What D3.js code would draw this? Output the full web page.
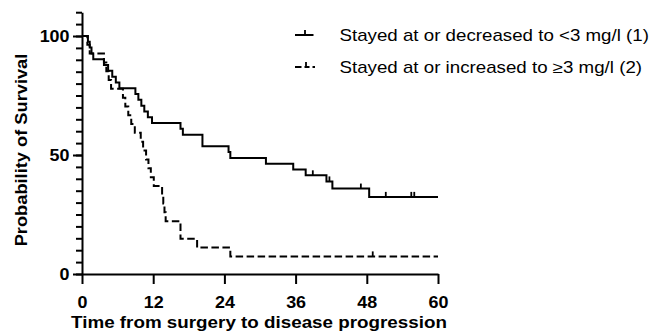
<!DOCTYPE html>
<html>
<head>
<meta charset="utf-8">
<script src="https://cdn.jsdelivr.net/npm/d3@7"></script>
<style>
  html, body { margin: 0; padding: 0; background: #fff; }
  svg { display: block; }
  text { font-family: "Liberation Sans", Arial, Helvetica, sans-serif; fill: #000; }
</style>
</head>
<body>
<svg id="chart" width="656" height="332"></svg>
<script>
// Kaplan–Meier steps: month of each drop and survival (%) right after it
const lowTimes    = [0, 1.0, 1.3, 1.6, 1.9, 3.7, 4.4, 5.1, 5.7, 6.3, 9.0, 9.5, 10.0, 10.5, 11.1, 11.8,
                     16.6, 17.0, 20.3, 24.7, 25.0, 31.0, 35.6, 37.7, 41.2, 42.2, 48.4];
const lowSurvival = [100, 97.56, 95.12, 92.68, 90.24, 87.80, 85.37, 82.93, 80.49, 78.05, 75.61, 73.17,
                     70.73, 68.29, 65.85, 63.41, 60.98, 58.54, 53.66, 51.22, 48.78, 46.34, 43.90,
                     41.46, 38.9, 35.9, 32.4];
const lowCensored = [38.9, 41.7, 47.0, 51.2, 55.5, 56.0];

const highTimes    = [0, 0.9, 1.3, 3.7, 4.1, 4.5, 4.9, 6.9, 7.3, 7.8, 8.3, 8.9, 9.9, 10.3, 10.8, 11.2,
                      11.6, 12.1, 13.5, 13.7, 13.9, 14.1, 16.6, 19.4, 25.0];
const highSurvival = [100, 96.3, 92.6, 88.9, 85.2, 81.5, 77.8, 74.1, 70.4, 66.7, 63.0, 59.3, 55.6, 51.9,
                      48.1, 44.4, 40.7, 37.0, 33.3, 29.6, 25.9, 22.2, 14.8, 11.1, 7.4];
const highCensored = [49.0];

const followUpEnd = 60;
const seriesNames = ["Stayed at or decreased to <3 mg/l (1)", "Stayed at or increased to \u22653 mg/l (2)"];
const xTickValues = [0, 12, 24, 36, 48, 60];
const yMajorTicks = [0, 50, 100];
const yMinorTicks = [0, 5, 10, 15, 20, 25, 30, 35, 40, 45, 50, 55, 60, 65, 70, 75, 80, 85, 90, 95, 100, 105, 110];
const xTitle = "Time from surgery to disease progression";
const yTitle = "Probability of Survival";

const svg = d3.select("#chart");
const x = d3.scaleLinear().domain([0, 60]).range([82, 438]);
const y = d3.scaleLinear().domain([0, 110]).range([274, 274 - 2.38 * 110]);

const STROKE = 2;
const DASH = "7.5,3.5";

// ---- axes ----
const gYMinor = svg.append("g").attr("transform", `translate(${x(0)},0)`)
  .call(d3.axisLeft(y).tickValues(yMinorTicks).tickSize(6).tickSizeOuter(0).tickFormat(""));
const gYMajor = svg.append("g").attr("transform", `translate(${x(0)},0)`)
  .call(d3.axisLeft(y).tickValues(yMajorTicks).tickSize(9).tickSizeOuter(0).tickFormat(d3.format("d")));
const gX = svg.append("g").attr("transform", `translate(0,${y(0)})`)
  .call(d3.axisBottom(x).tickValues(xTickValues).tickSize(10).tickSizeOuter(0).tickFormat(d3.format("d")));

[gYMinor, gYMajor, gX].forEach(g => {
  g.selectAll("path.domain").attr("stroke", "#000").attr("stroke-width", STROKE);
  g.selectAll(".tick line").attr("stroke", "#000").attr("stroke-width", STROKE);
});
gYMajor.select("path.domain").remove();
gYMajor.selectAll(".tick text")
  .attr("x", null).attr("dy", null)
  .attr("text-anchor", "end")
  .attr("transform", `translate(-12.5,5.7) scale(1.12,1)`)
  .style("font-size", "16px").style("font-weight", "700").attr("fill", "#000");
gX.selectAll(".tick text")
  .attr("y", null).attr("dy", null)
  .attr("text-anchor", "middle")
  .attr("transform", `translate(0,34) scale(1.12,1)`)
  .style("font-size", "16px").style("font-weight", "700").attr("fill", "#000");

// ---- axis titles ----
svg.append("text")
  .attr("text-anchor", "middle")
  .attr("transform", `translate(259,328) scale(1.14,1)`)
  .style("font-size", "16.5px").style("font-weight", "700")
  .text(xTitle);
svg.append("text")
  .attr("text-anchor", "middle")
  .attr("transform", `translate(27,150) rotate(-90) scale(1.12,1)`)
  .style("font-size", "16.3px").style("font-weight", "700")
  .text(yTitle);

// ---- survival curves ----
const stepLine = d3.line().x(d => x(d[0])).y(d => y(d[1])).curve(d3.curveStepAfter);
function stepPoints(times, surv) {
  const pts = times.map((t, i) => [t, surv[i]]);
  pts.push([followUpEnd, surv[surv.length - 1]]);
  return pts;
}
function survivalAt(times, surv, t) {
  let v = surv[0];
  times.forEach((ti, i) => { if (ti <= t) v = surv[i]; });
  return v;
}

const series = [
  { times: lowTimes, surv: lowSurvival, censored: lowCensored, dash: null },
  { times: highTimes, surv: highSurvival, censored: highCensored, dash: DASH }
];

series.forEach(s => {
  svg.append("path")
    .attr("d", stepLine(stepPoints(s.times, s.surv)))
    .attr("fill", "none").attr("stroke", "#000").attr("stroke-width", STROKE)
    .attr("stroke-dasharray", s.dash);
  svg.append("g").selectAll("line").data(s.censored).join("line")
    .attr("x1", d => x(d)).attr("x2", d => x(d))
    .attr("y1", d => y(survivalAt(s.times, s.surv, d)))
    .attr("y2", d => y(survivalAt(s.times, s.surv, d)) - 5)
    .attr("stroke", "#000").attr("stroke-width", 1.8);
});

// ---- legend ----
const legend = svg.append("g");
const rows = [35, 67];
// row 1: solid line with censor tick
legend.append("line").attr("x1", 295).attr("x2", 313.5).attr("y1", rows[0]).attr("y2", rows[0])
  .attr("stroke", "#000").attr("stroke-width", STROKE);
legend.append("line").attr("x1", 305).attr("x2", 305).attr("y1", rows[0]).attr("y2", rows[0] - 5)
  .attr("stroke", "#000").attr("stroke-width", 1.8);
// row 2: dashed line with censor tick
[[295, 301.5], [304.5, 309.5], [312.5, 315]].forEach(seg => {
  legend.append("line").attr("x1", seg[0]).attr("x2", seg[1]).attr("y1", rows[1]).attr("y2", rows[1])
    .attr("stroke", "#000").attr("stroke-width", STROKE);
});
legend.append("line").attr("x1", 306).attr("x2", 306).attr("y1", rows[1]).attr("y2", rows[1] - 5)
  .attr("stroke", "#000").attr("stroke-width", 1.8);

seriesNames.forEach((name, i) => {
  legend.append("text")
    .attr("transform", `translate(339.5,${rows[i] + 5.7}) scale(1.17,1)`)
    .style("font-size", "16px")
    .text(name);
});
</script>
</body>
</html>
